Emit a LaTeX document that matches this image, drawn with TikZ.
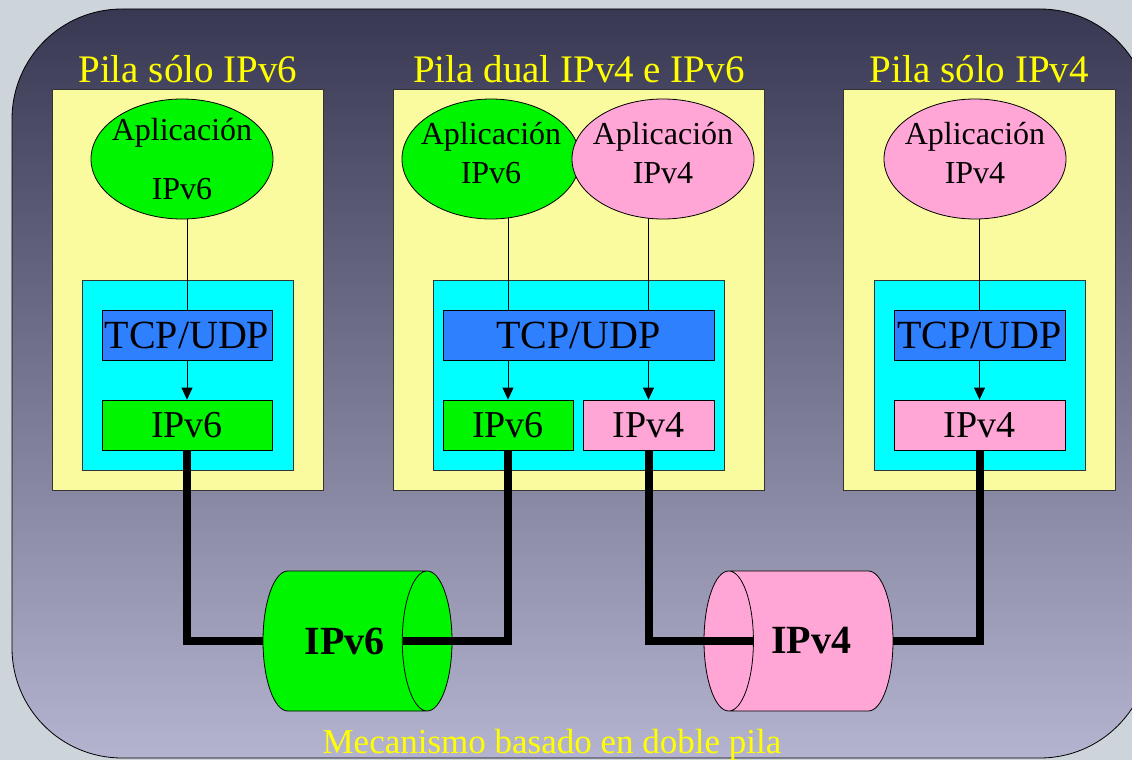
\documentclass[tikz,border=0pt]{standalone}
\usepackage{fontspec}
\setmainfont{Liberation Serif}
\usepackage{tikz}
\usetikzlibrary{arrows.meta}
\usetikzlibrary{shapes.geometric}
\usetikzlibrary{positioning}

\definecolor{fondo}{HTML}{CDD4DA}
\definecolor{marcoarriba}{HTML}{383852}
\definecolor{marcoabajo}{HTML}{B4B4D0}
\definecolor{amarillo}{HTML}{FAFA9E}
\definecolor{amarillotit}{HTML}{FFFF00}
\definecolor{verde}{HTML}{00F500}
\definecolor{rosa}{HTML}{FFA6D6}
\definecolor{celeste}{HTML}{00FFFF}
\definecolor{azul}{HTML}{2E80FF}

\begin{document}
\begin{tikzpicture}[x=1pt, y=-1pt, >={Triangle[width=11pt,length=12pt]}, line width=0.8pt]
            \tikzstyle{pila}=[draw=black!80, fill=amarillo, anchor=north west, inner sep=0]
            \tikzstyle{nivel}=[draw=black!80, fill=celeste, anchor=north west, inner sep=0]
            \tikzstyle{rotulo}=[text=amarillotit, inner sep=0, font=\fontsize{39}{44}\selectfont]
            \tikzstyle{app}=[ellipse, draw, minimum width=182, minimum height=120, inner sep=0]
            \tikzstyle{etiq}=[align=center, inner sep=0, font=\fontsize{32}{39}\selectfont]
            \tikzstyle{capa}=[draw, rectangle, minimum height=50, inner sep=0, font=\fontsize{40}{44}\selectfont]
            \tikzstyle{red}=[capa, font=\fontsize{38}{42}\selectfont]
            \tikzstyle{tubo}=[cylinder, draw, minimum width=140, minimum height=189, shape aspect=1.85, inner sep=0, font=\bfseries\fontsize{40}{44}\selectfont]
            \tikzstyle{hilo}=[line width=0.8pt]
            \tikzstyle{enlace}=[line width=8pt]

            \useasboundingbox (0,0) rectangle (1132,760);
            \fill[fondo] (0,0) rectangle (1132,760);
            \draw[rounded corners=110, top color=marcoarriba, bottom color=marcoabajo] (12,9) rectangle (1150,758);

            % las tres pilas
            \node[pila, minimum width=271, minimum height=401] (pila6) at (52,89) {};
            \node[pila, minimum width=371, minimum height=401] (pilad) at (393,89) {};
            \node[pila, minimum width=272, minimum height=401] (pila4) at (843,89) {};
            \node[rotulo, above=6pt of pila6] (tit6) {Pila sólo IPv6};
            \node[rotulo, above=6pt of pilad] (titd) {Pila dual IPv4 e IPv6};
            \node[rotulo, above=6pt of pila4] (tit4) {Pila sólo IPv4};

            \node[nivel, minimum width=211, minimum height=190] (nivel6) at (82,280) {};
            \node[nivel, minimum width=291, minimum height=190] (niveld) at (433,280) {};
            \node[nivel, minimum width=211, minimum height=190] (nivel4) at (874,280) {};

            \node[capa, fill=azul, minimum width=170] (tcp6) at (187,335) {TCP/UDP};
            \node[capa, fill=azul, minimum width=271] (tcpd) at (578.5,335) {TCP/UDP};
            \node[capa, fill=azul, minimum width=171] (tcp4) at (979.5,335) {TCP/UDP};
            \node[red, fill=verde, minimum width=170] (ip6a) at (187,425) {IPv6};
            \node[red, fill=verde, minimum width=130] (ipd6) at (508,425) {IPv6};
            \node[red, fill=rosa, minimum width=131] (ipd4) at (648.5,425) {IPv4};
            \node[red, fill=rosa, minimum width=171] (ip4c) at (979.5,425) {IPv4};

            % aplicaciones
            \draw[hilo] (ip6a |- 0,215) -- (tcp6.north -| ip6a);
            \draw[hilo] (ipd6 |- 0,215) -- (tcpd.north -| ipd6);
            \draw[hilo] (ipd4 |- 0,215) -- (tcpd.north -| ipd4);
            \draw[hilo] (ip4c |- 0,215) -- (tcp4.north -| ip4c);
            \node[app, fill=verde, label={[etiq]center:{Aplicación\\[20pt]IPv6}}] (app6) at (182,159) {};
            \node[app, fill=verde, minimum width=178, label={[etiq]center:{Aplicación\\IPv6\rule[-13pt]{0pt}{0pt}}}] (appd6) at (491,159) {};
            \node[app, fill=rosa, label={[etiq]center:{Aplicación\\IPv4\rule[-13pt]{0pt}{0pt}}}] (appd4) at (663,159) {};
            \node[app, fill=rosa, label={[etiq]center:{Aplicación\\IPv4\rule[-13pt]{0pt}{0pt}}}] (app4) at (975,159) {};

            \draw[hilo,->] (tcp6.south -| ip6a) -- (ip6a.north);
            \draw[hilo,->] (tcpd.south -| ipd6) -- (ipd6.north);
            \draw[hilo,->] (tcpd.south -| ipd4) -- (ipd4.north);
            \draw[hilo,->] (tcp4.south -| ip4c) -- (ip4c.north);

            % tuneles
            \node[tubo, fill=verde, anchor=shape center] (tubo6) at (357.5,641) {IPv6};
            \node[tubo, fill=rosa, shape border rotate=180, anchor=shape center] (tubo4) at (798.5,641) {IPv4};

            \draw[enlace] (ip6a.south) |- (tubo6.west);
            \draw[enlace] (ipd6.south) |- ([xshift=-49]tubo6.east);
            \draw[enlace] (ipd4.south) |- ([xshift=50]tubo4.west);
            \draw[enlace] (ip4c.south) |- (tubo4.east);

            \node[rotulo, font=\fontsize{35}{40}\selectfont, anchor=base] (pie) at (552,753) {Mecanismo basado en doble pila};
\end{tikzpicture}
\end{document}
